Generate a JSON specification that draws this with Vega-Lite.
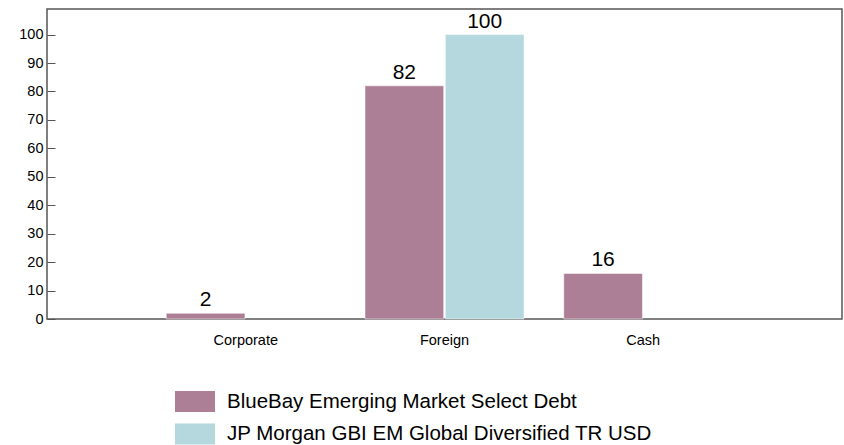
{
  "$schema": "https://vega.github.io/schema/vega-lite/v6.json",
  "width": 795,
  "height": 310,
  "autosize": {"type": "none"},
  "padding": {"left": 47, "top": 9, "right": 2, "bottom": 126},
  "background": "white",
  "config": {
    "font": "Liberation Sans",
    "view": {"stroke": "#555555", "strokeWidth": 1.5},
    "axis": {"grid": false, "domain": false, "labelFont": "Liberation Sans", "labelColor": "#000000", "labelFontSize": 14.5}
  },
  "data": {
    "values": [
      {"category": "Corporate", "series": "BlueBay Emerging Market Select Debt", "value": 2},
      {"category": "Foreign", "series": "BlueBay Emerging Market Select Debt", "value": 82},
      {"category": "Foreign", "series": "JP Morgan GBI EM Global Diversified TR USD", "value": 100},
      {"category": "Cash", "series": "BlueBay Emerging Market Select Debt", "value": 16}
    ]
  },
  "encoding": {
    "x": {
      "field": "category", "type": "nominal", "sort": ["Corporate", "Foreign", "Cash"],
      "scale": {"paddingInner": 0.2, "paddingOuter": 0.6},
      "axis": {"title": null, "labelAngle": 0, "ticks": false, "labelPadding": 14}
    },
    "xOffset": {
      "field": "series", "type": "nominal",
      "scale": {"domain": ["BlueBay Emerging Market Select Debt", "JP Morgan GBI EM Global Diversified TR USD"], "paddingInner": 0.02}
    },
    "y": {
      "field": "value", "type": "quantitative",
      "scale": {"domain": [0, 109], "nice": false},
      "axis": {"title": null, "values": [0,10,20,30,40,50,60,70,80,90,100], "tickSize": -8, "tickColor": "#555555", "labelPadding": 12}
    }
  },
  "layer": [
    {
      "mark": {"type": "bar", "stroke": "white", "strokeWidth": 0.5},
      "encoding": {
        "color": {
          "field": "series", "type": "nominal",
          "scale": {"domain": ["BlueBay Emerging Market Select Debt", "JP Morgan GBI EM Global Diversified TR USD"], "range": ["#ad7f96", "#b4d8de"]},
          "legend": {
            "title": null, "orient": "none", "legendX": 128, "legendY": 382,
            "symbolType": "M-1,-1H2.81V1H-1Z", "symbolSize": 441, "symbolStrokeWidth": 0,
            "labelFontSize": 20.5, "labelFont": "Liberation Sans", "labelColor": "#000000",
            "labelOffset": 31, "rowPadding": 11.5, "labelLimit": 600
          }
        }
      }
    },
    {
      "mark": {"type": "text", "baseline": "bottom", "dy": -3, "fontSize": 21, "font": "Liberation Sans", "color": "#000000"},
      "encoding": {"text": {"field": "value", "type": "quantitative"}}
    }
  ]
}
